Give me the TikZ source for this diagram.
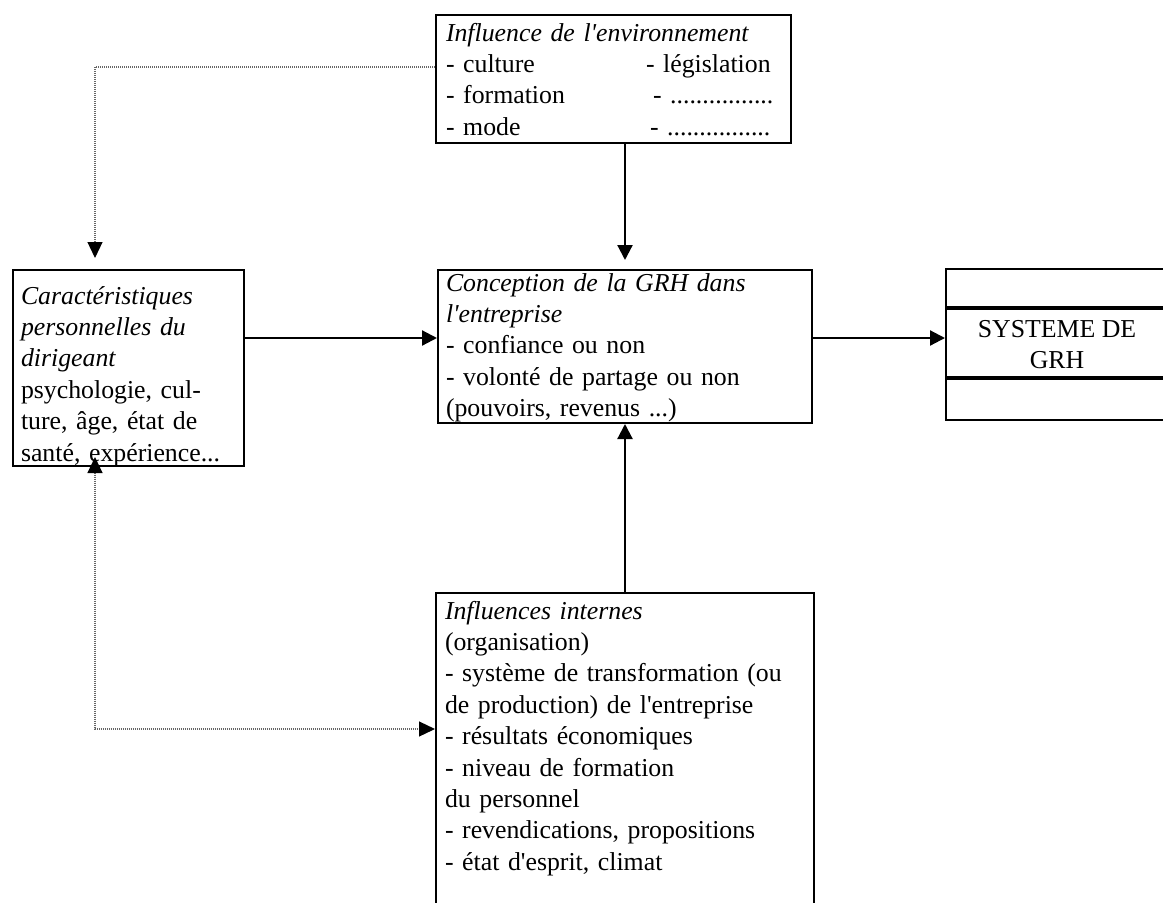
\documentclass[tikz,border=0pt]{standalone}
\usepackage{fontspec}
\setmainfont{Liberation Serif}
\usetikzlibrary{arrows.meta,
                calc,
                positioning}
\newcommand{\apos}{\textquotesingle}

\begin{document}
\begin{tikzpicture}[
            x = 1pt, y = -1pt,
            every node/.style = {font=\fontsize{25.8}{31.4}\selectfont},
            box/.style = {draw, line width=2pt, rectangle, anchor=north west,
                    align=left, inner ysep=0pt},
            sysbox/.style = {draw, line width=2pt, rectangle, align=center,
                    minimum width=222pt, minimum height=151pt, inner sep=0pt},
            arr/.tip = {Triangle[length=15pt, width=15pt]},
            darr/.tip = {Triangle[length=16pt, width=15pt, color=black]},
            flow/.style = {line width=2.2pt, -arr},
            link/.style = {line width=1.2pt, black!60, dash pattern=on 1pt off 1pt}]

        \useasboundingbox (0,0) rectangle (1163,903);
        \clip (0,0) rectangle (1163,903);

        \node [box, inner xsep=10pt, text width=335pt,
            text height=26pt, text depth=102pt] (env) at (435,14)
            {\textit{Influence de l\apos{}environnement}\\
             \makebox[200pt][l]{- culture}- législation\\
             \makebox[207pt][l]{- formation}- ................\\
             \makebox[204pt][l]{- mode}- ................}; % environnement
        \node [box, inner xsep=8pt, text width=215pt,
            text height=34pt, text depth=162pt] (dir) at (12,269)
            {\textit{Caractéristiques}\\
             \textit{personnelles du}\\
             \textit{dirigeant}\\
             psychologie, cul-\\
             ture, âge, état de\\
             \mbox{santé, expérience...}}; % dirigeant
        \node [box, inner xsep=8pt, text width=358pt,
            text height=21pt, text depth=132pt] (gest) at (437,269)
            {\textit{Conception de la GRH dans}\\
             \textit{l\apos{}entreprise}\\
             - confiance ou non\\
             - volonté de partage ou non\\
             (pouvoirs, revenus ...)}; % conception
        \node [box, inner xsep=9pt, text width=360pt,
            text height=26pt, text depth=318pt] (int) at (435,592)
            {\textit{Influences internes}\\
             (organisation)\\
             - système de transformation (ou\\
             de production) de l\apos{}entreprise\\
             - résultats économiques\\
             - niveau de formation\\
             du personnel\\
             - revendications, propositions\\
             - état d\apos{}esprit, climat}; % internes
        \node [sysbox] (sys) at (1057,344.5) {SYSTEME DE\\GRH}; % systeme

        \draw [line width=3.5pt] ([yshift=-40pt]sys.north west) -- ([yshift=-40pt]sys.north east);
        \draw [line width=3.5pt] ([yshift=-110pt]sys.north west) -- ([yshift=-110pt]sys.north east);

        %%
        \coordinate (row) at (0,338);
        \coordinate (lnk1) at (95,67);
        \coordinate (lnk2) at (95,729);

        \draw [flow, shorten >=9pt] (gest.north |- env.south) -- (gest.north);
        \draw [flow] (int.north) -- (gest.south);
        \draw [flow] (dir.east |- row) -- (gest.west |- row);
        \draw [flow] (gest.east |- row) -- (sys.west |- row);

        % dotted links
        \draw [link, -darr, shorten >=11pt]
        (env.west |- lnk1) -- (lnk1) -- (lnk1 |- dir.north);
        \draw [link, darr-darr, shorten <=-10pt]
        (lnk1 |- dir.south) -- (lnk2) -- (int.west |- lnk2);
    \end{tikzpicture}
\end{document}
